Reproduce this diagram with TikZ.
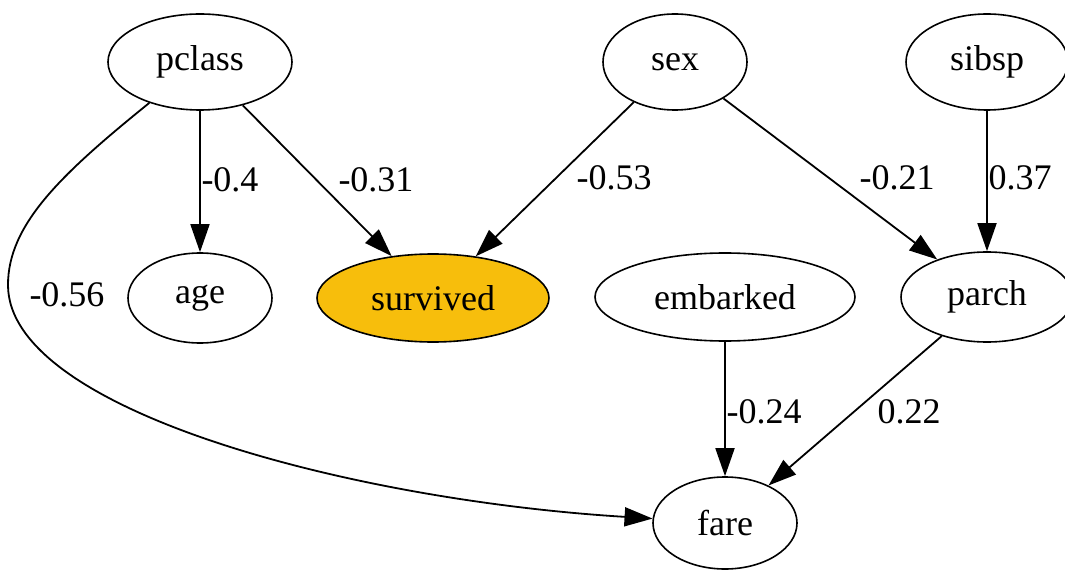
\documentclass[tikz,border=0pt]{standalone}
\usepackage{fontspec}
\setmainfont{Liberation Serif}
\usetikzlibrary{arrows.meta,shapes.geometric}
\definecolor{survfill}{RGB}{247,190,12}
\begin{document}
\begin{tikzpicture}[x=0.5pt,y=-0.5pt,
  var/.style={draw,ellipse,line width=0.8pt,inner sep=0pt,font=\fontsize{18}{21}\selectfont},
  edge/.style={line width=0.9pt,-{Triangle[length=14pt,width=9.5pt]}},
  lab/.style={font=\fontsize{18}{21}\selectfont,inner sep=0pt}]
\useasboundingbox (0,0) rectangle (1065,572);
\node[var,minimum width=92pt,minimum height=48pt] (pclass) at (200,62) {pclass};
\node[var,minimum width=72pt,minimum height=48pt] (sex) at (675,62) {sex};
\node[var,minimum width=81pt,minimum height=48pt] (sibsp) at (987,62) {sibsp};
\node[var,minimum width=72pt,minimum height=45pt] (age) at (200,298) {age};
\node[var,fill=survfill,minimum width=116pt,minimum height=44pt] (survived) at (433,298) {survived};
\node[var,minimum width=130pt,minimum height=44pt] (embarked) at (725,297) {embarked};
\node[var,minimum width=86pt,minimum height=45pt] (parch) at (987,297) {parch};
\node[var,minimum width=72pt,minimum height=46pt] (fare) at (725,523) {fare};
\coordinate (c1) at (60,175);
\coordinate (c2) at (8,225);
\coordinate (lm) at (8,285);
\coordinate (c3) at (8,410);
\coordinate (c4) at (350,500);
\draw[edge] (pclass) -- (age);
\draw[edge] (pclass) -- (survived);
\draw[edge] (sex) -- (survived);
\draw[edge] (sex) -- (parch);
\draw[edge] (sibsp) -- (parch);
\draw[edge] (embarked) -- (fare);
\draw[edge] (parch) -- (fare);
\draw[edge] (pclass) .. controls (c1) and (c2) .. (lm) .. controls (c3) and (c4) .. (fare);
\node[lab] (l1) at (230,180) {-0.4};
\node[lab] (l2) at (376,180) {-0.31};
\node[lab] (l3) at (614,178) {-0.53};
\node[lab] (l4) at (897,178) {-0.21};
\node[lab] (l5) at (1020,178) {0.37};
\node[lab] (l6) at (67,295) {-0.56};
\node[lab] (l7) at (764,412) {-0.24};
\node[lab] (l8) at (909,412) {0.22};
\end{tikzpicture}
\end{document}
